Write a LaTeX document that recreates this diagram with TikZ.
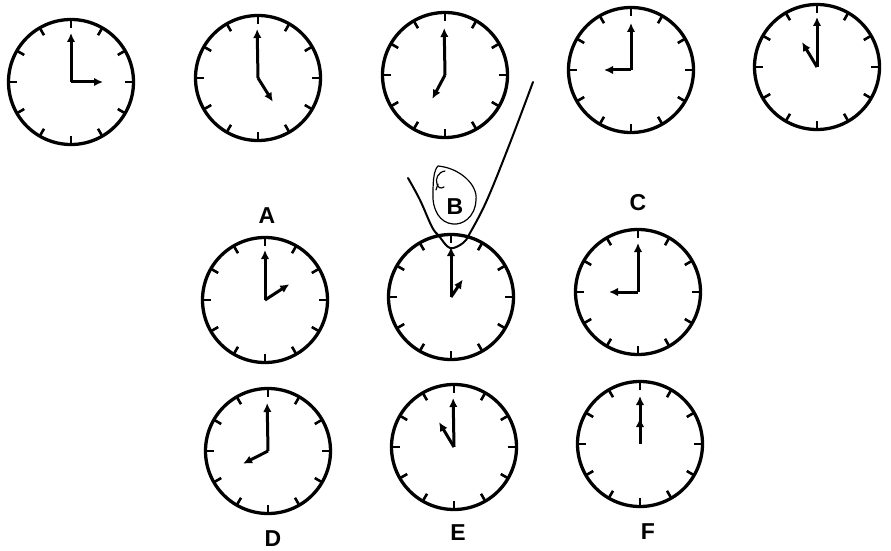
\documentclass[tikz,border=0pt]{standalone}
\usepackage{fontspec}
\setmainfont{Liberation Sans}
\usetikzlibrary{arrows.meta}
\begin{document}
\begin{tikzpicture}[x=1pt,y=1pt,
  dial/.style={circle,draw,line width=3.3pt,inner sep=0pt,minimum size=125pt},
  hand/.style={line width=3pt,-{Latex[length=9pt,width=8.5pt]}},
  tickmark/.style={line width=2.6pt},
  lbl/.style={font=\bfseries\fontsize{23}{23}\selectfont,inner sep=0pt},
  scribble/.style={line width=2pt,line cap=round,line join=round},
  thinline/.style={line width=1.2pt,line cap=round}]
\useasboundingbox (0,0) rectangle (891,550);
\newcommand\dialticks[1]{%
  \foreach \a in {0,30,...,330}{%
    \draw[tickmark] ([shift={(\a:62.5)}]#1.center) -- ([shift={(\a:54)}]#1.center);}}
% top row
\node[dial] (k1) at (71,468) {};
\node[dial] (k2) at (258,472) {};
\node[dial] (k3) at (445,475) {};
\node[dial] (k4) at (631,480) {};
\node[dial] (k5) at (817,483) {};
% answer clocks
\node[dial] (ka) at (265,250) {};
\node[dial] (kb) at (451,253) {};
\node[dial] (kc) at (638,258) {};
\node[dial] (kd) at (268,99) {};
\node[dial] (ke) at (454,103) {};
\node[dial] (kf) at (640,106) {};
\foreach \k in {k1,k2,k3,k4,k5,ka,kb,kc,kd,ke,kf}{\dialticks{\k}}
% hands
\draw[hand] (k1.center) -- ++(90:49);
\draw[hand] (k1.center) -- ++(0:32);
\draw[hand] (k2.center) -- ++(91:49);
\draw[hand] (k2.center) -- ++(-58:28);
\draw[hand] (k3.center) -- ++(91:47);
\draw[hand] (k3.center) -- ++(-118:27);
\draw[hand] (k4.center) -- ++(90:47);
\draw[hand] (k4.center) -- ++(180:27);
\draw[hand] (k5.center) -- ++(90:50);
\draw[hand] (k5.center) -- ++(121:29);
\draw[hand] (ka.center) -- ++(90:50);
\draw[hand] (ka.center) -- ++(33:29);
\draw[hand] (kb.center) -- ++(90:50);
\draw[hand] (kb.center) -- ++(56:21);
\draw[hand] (kc.center) -- ++(90:49);
\draw[hand] (kc.center) -- ++(180:29);
\draw[hand] (kd.center) -- ++(91:48);
\draw[hand] (kd.center) -- ++(-153:28);
\draw[hand] (ke.center) -- ++(91:49);
\draw[hand] (ke.center) -- ++(121:29);
\draw[hand] (kf.center) -- ++(90:48);
\draw[hand] (kf.center) -- ++(90:26);
% labels
\node[lbl] (la) at (267,334) {A};
\node[lbl] (lb) at (455,343) {B};
\node[lbl] (lc) at (638,347) {C};
\node[lbl] (ld) at (273,11) {D};
\node[lbl] (le) at (458,17) {E};
\node[lbl] (lf) at (648,18) {F};
% handwritten marks
\draw[scribble] plot[smooth,tension=0.6] coordinates {(408,372) (420,350) (432,323) (439,314) (450,302) (463,307) (470,317) (487,350) (510,407) (533,468)};
\draw[thinline] (438,384) .. controls (460,382) and (478,365) .. (476,350)
  .. controls (475,332) and (462,325) .. (453,326)
  .. controls (440,327) and (432,340) .. (433,357)
  .. controls (433,370) and (434,380) .. (438,384);
\draw[thinline] (445,379) .. controls (438,378) and (435,371) .. (437,366) .. controls (438,362) and (441,361) .. (444,363);
\draw[thinline] (438,366) -- (436,360);
\end{tikzpicture}
\end{document}
